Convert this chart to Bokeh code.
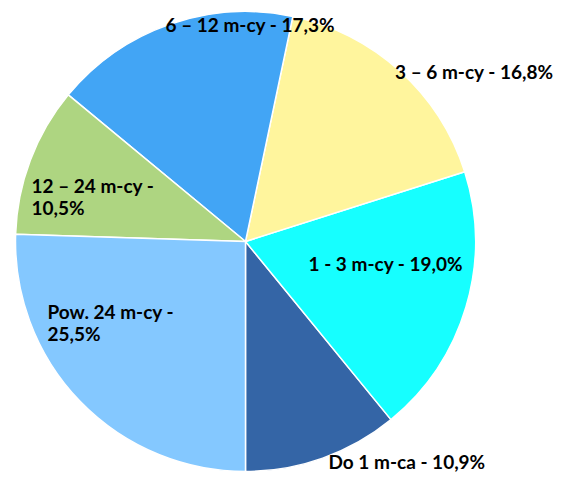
import math
from bokeh.plotting import figure
from bokeh.models import ColumnDataSource, Range1d
from bokeh.core.properties import value
from bokeh.embed import file_html
from bokeh.resources import INLINE

# ---- data ----
categories = ["Do 1 m-ca", "1 - 3 m-cy", "3 \u2013 6 m-cy", "6 \u2013 12 m-cy", "12 \u2013 24 m-cy", "Pow. 24 m-cy"]
values = [10.9, 19.0, 16.8, 17.3, 10.5, 25.5]
colors = ["#3465A6", "#16FFFF", "#FFF59D", "#42A5F5", "#AED581", "#84C8FF"]

# ---- layout (picture pixel coords: x, baseline y, align, split into two lines?) ----
label_pos = [(328, 461, "left", False), (308, 263, "left", False), (553, 71, "right", False),
             (165, 24, "left", False), (31, 185, "left", True), (47, 311, "left", True)]
LINE_GAP = 22

W, H = 555, 472
def Y(py):
    return H - py

cx, cy, R = 245, Y(241), 230

total = sum(values)
starts, ends = [], []
acc = -math.pi / 2
for v in values:
    starts.append(acc)
    acc += 2 * math.pi * v / total
    ends.append(acc)

src = ColumnDataSource(dict(start=starts, end=ends, color=colors,
                            x=[cx] * len(values), y=[cy] * len(values)))

p = figure(width=W, height=H, output_backend="svg", toolbar_location=None,
           x_range=Range1d(0, W), y_range=Range1d(0, H),
           x_axis_type=None, y_axis_type=None, min_border=0,
           outline_line_color=None, background_fill_color="white")
p.grid.visible = False

p.wedge(x="x", y="y", radius=R, start_angle="start", end_angle="end",
        fill_color="color", line_color="white", line_width=1.5, source=src)

tx, ty, tt, ta = [], [], [], []
for cat, v, (lx, by, al, split) in zip(categories, values, label_pos):
    pct = f"{v:.1f}".replace(".", ",") + "%"
    if split:
        tx += [lx, lx]
        ty += [Y(by), Y(by + LINE_GAP)]
        tt += [cat + " -", pct]
        ta += [al, al]
    else:
        tx.append(lx)
        ty.append(Y(by))
        tt.append(f"{cat} - {pct}")
        ta.append(al)

tsrc = ColumnDataSource(dict(x=tx, y=ty, text=tt, align=ta))
p.text(x="x", y="y", text="text", text_align="align", source=tsrc,
       text_font=value("Lato"), text_font_style="bold",
       text_font_size="19px", text_color="#000000", text_baseline="alphabetic")

open("out.html", "w").write(file_html(p, INLINE))
